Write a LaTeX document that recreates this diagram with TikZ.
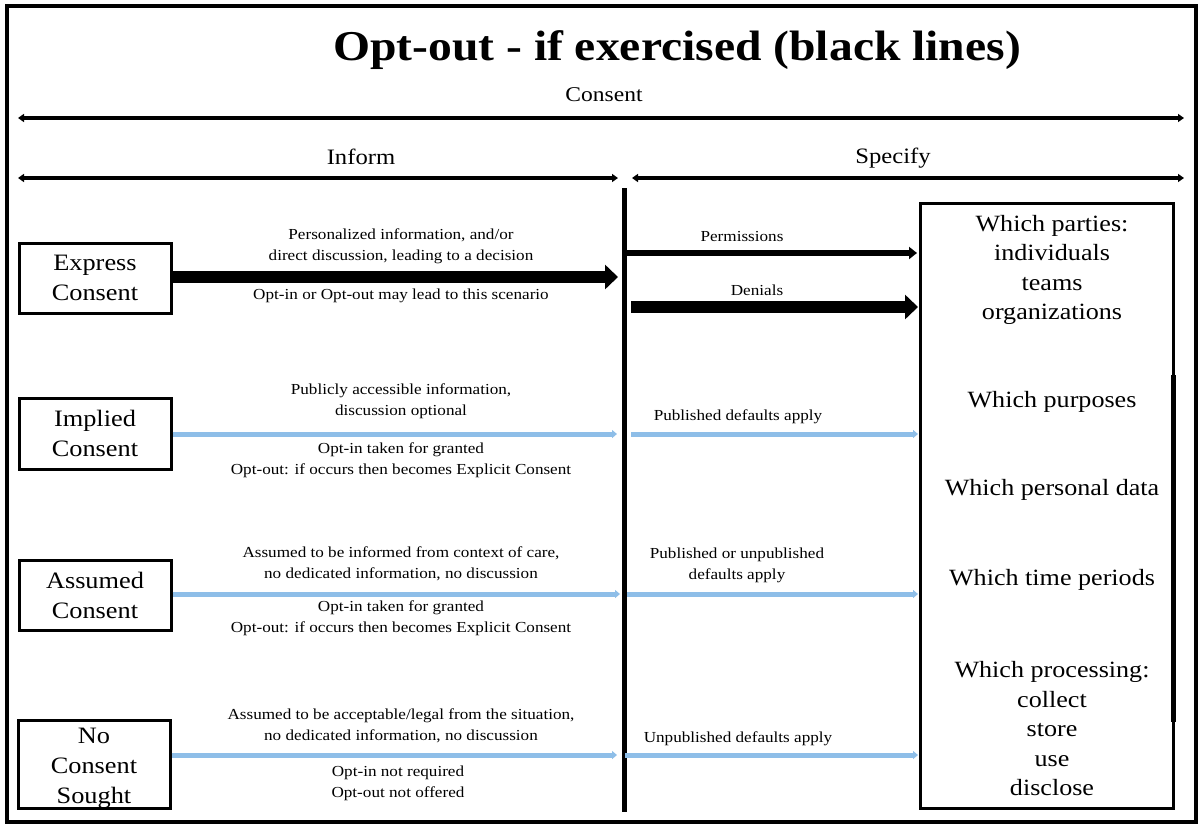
\documentclass[tikz,border=0pt]{standalone}
\usepackage{fontspec}
\setmainfont{Liberation Serif}[FakeStretch=1.12]
\usetikzlibrary{arrows.meta}
\definecolor{paleblue}{RGB}{142,190,232}
\begin{document}
\begin{tikzpicture}[x=1pt,y=-1pt,
  txt/.style={inner sep=0pt,align=center},
  small/.style={txt,font=\fontsize{15.3}{21}\selectfont},
  big/.style={txt,font=\fontsize{23.3}{29.5}\selectfont},
  kindbox/.style={draw,line width=3pt,minimum width=152pt,inner sep=0pt,align=center,
    font=\fontsize{23.5}{30}\selectfont},
  span/.style={line width=4pt,{Triangle[length=6pt,width=8pt]}-{Triangle[length=6pt,width=8pt]}},
  heavy/.style={line width=12pt,-{Triangle[length=13pt,width=24pt]}},
  medium/.style={line width=6pt,-{Triangle[length=8pt,width=12pt]}},
  soft/.style={draw=paleblue,line width=5pt,-{Triangle[length=5pt,width=8pt]}}]
\useasboundingbox (0,0) rectangle (1201,827);
% outer frame
\draw[line width=4pt] (7,6) rectangle (1196,822);

% headings and scale bars
\node[txt,font=\fontsize{42.5}{48}\bfseries] (title) at (677,50) {Opt-out - if exercised (black lines)};
\node[txt,font=\fontsize{21}{25}\selectfont] (consent) at (604,95) {Consent};
\coordinate (cL) at (18,118);
\coordinate (cR) at (1184,118);
\draw[span] (cL) -- (cR);
\node[txt,font=\fontsize{22}{26}\selectfont] (inform) at (361,157) {Inform};
\node[txt,font=\fontsize{22}{26}\selectfont] (specify) at (893,158) {Specify};
\coordinate (iL) at (18,178);
\coordinate (iR) at (618,178);
\coordinate (sL) at (632,178);
\coordinate (sR) at (1184,178);
\draw[span] (iL) -- (iR);
\draw[span] (sL) -- (sR);

% divider
\coordinate (dT) at (624,188);
\coordinate (dB) at (624,812);
\draw[line width=5pt] (dT) -- (dB);

% kinds of consent
\node[kindbox,minimum height=70pt] (express) at (95,278) {Express\\Consent};
\node[kindbox,minimum height=71pt] (implied) at (95,433.5) {Implied\\Consent};
\node[kindbox,minimum height=70pt] (assumed) at (95,595) {Assumed\\Consent};
\node[kindbox,minimum height=88pt,text depth=0pt] (none) at (94,764) {};
\node[txt,font=\fontsize{23.5}{30}\selectfont] (nonetext) at (94,768) {No\\Consent\\Sought};

% specification box (its right edge is heavier over the middle stretch)
\node[draw,line width=3pt,minimum width=253pt,minimum height=605pt] (spec) at (1046.5,505.5) {};
\draw[line width=5pt] ([xshift=-1.5pt]spec.east |- 0,375) -- ([xshift=-1.5pt]spec.east |- 0,722);
\node[big] (parties) at (1052,270) {Which parties:\\individuals\\teams\\organizations};
\node[big] (purposes) at (1052,402) {Which purposes};
\node[big] (pdata) at (1052,490) {Which personal data};
\node[big] (periods) at (1052,580) {Which time periods};
\node[big] (processing) at (1052,729) {Which processing:\\collect\\store\\use\\disclose};

% express consent
\coordinate (eEnd) at (618,277);
\draw[heavy] (express.east |- eEnd) -- (eEnd);
\node[small] (eUp) at (401,246.5) {Personalized information, and/or\\direct discussion, leading to a decision};
\node[small] (eDn) at (401,296) {Opt-in or Opt-out may lead to this scenario};
\coordinate (pS) at (627,253);
\coordinate (pE) at (917,253);
\draw[medium] (pS) -- (pE);
\node[small] (perm) at (742,237) {Permissions};
\coordinate (dS) at (631,307);
\coordinate (dE) at (918,307);
\draw[heavy] (dS) -- (dE);
\node[small] (deny) at (757,290) {Denials};

% implied consent
\coordinate (imE) at (617,434);
\draw[soft] (implied.east |- imE) -- (imE);
\node[small] (imUp) at (401,401) {Publicly accessible information,\\discussion optional};
\node[small] (imDn) at (401,460.5) {Opt-in taken for granted\\Opt-out: if occurs then becomes Explicit Consent};
\coordinate (imS2) at (631,434);
\coordinate (imE2) at (918,434);
\draw[soft] (imS2) -- (imE2);
\node[small] (imR) at (738,417) {Published defaults apply};

% assumed consent
\coordinate (asE) at (620,594);
\draw[soft] (assumed.east |- asE) -- (asE);
\node[small] (asUp) at (401,563.5) {Assumed to be informed from context of care,\\no dedicated information, no discussion};
\node[small] (asDn) at (401,618.5) {Opt-in taken for granted\\Opt-out: if occurs then becomes Explicit Consent};
\coordinate (asS2) at (627,594);
\coordinate (asE2) at (918,594);
\draw[soft] (asS2) -- (asE2);
\node[small] (asR) at (737,565.5) {Published or unpublished\\defaults apply};

% no consent sought
\coordinate (noE) at (617,755);
\draw[soft] (none.east |- noE) -- (noE);
\node[small] (noUp) at (401,725.5) {Assumed to be acceptable/legal from the situation,\\no dedicated information, no discussion};
\node[small] (noDn) at (398,783) {Opt-in not required\\Opt-out not offered};
\coordinate (noS2) at (625,755);
\coordinate (noE2) at (918,755);
\draw[soft] (noS2) -- (noE2);
\node[small] (noR) at (738,739) {Unpublished defaults apply};
\end{tikzpicture}
\end{document}
